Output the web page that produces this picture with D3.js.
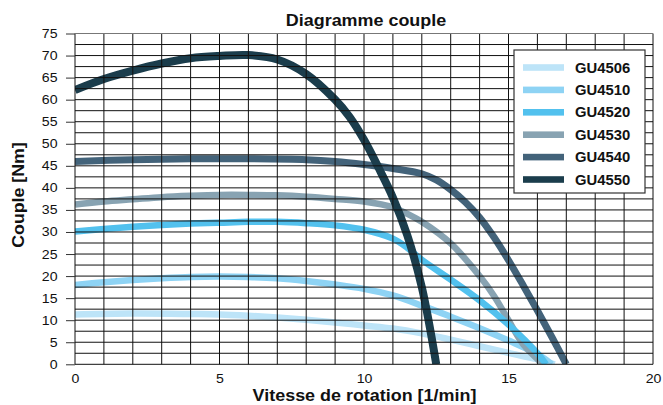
<!DOCTYPE html>
<html>
<head>
<meta charset="utf-8">
<title>Diagramme couple</title>
<script src="https://cdnjs.cloudflare.com/ajax/libs/d3/7.8.5/d3.min.js"></script>
<style>
	body { margin: 0; background: #fff; }
	svg text { font-family: "Liberation Sans", Arial, Helvetica, sans-serif; fill: #111; }
</style>
</head>
<body>
<svg id="chart" width="663" height="405"></svg>
<script>

	// models and their line colours (legend order, lightest first)
	var models = ["GU4506", "GU4510", "GU4520", "GU4530", "GU4540", "GU4550"];
	var colors = ["#bde4f8", "#8ed3f4", "#52c1ee", "#88a3b2", "#43637a", "#1b3d4c"];

	// [speed 1/min, torque Nm]
	var gu4506 = [[0,11.3],[2,11.5],[4,11.4],[5,11.3],[6,11.0],[7,10.6],[8,10.1],[9,9.5],[10,8.8],[11,8.1],[12,7.0],[13,5.6],[14,4.1],[15,2.6],[16,1.1],[16.6,0]];
	var gu4510 = [[0,18],[1,18.6],[2,19.1],[3,19.5],[4,19.8],[5,19.9],[6,19.8],[7,19.5],[8,18.9],[9,18.1],[10,17.1],[11,15.6],[12,13.3],[13,10.8],[14,8.2],[15,5.4],[16,2.3],[16.5,0]];
	var gu4520 = [[0,30.1],[1,30.7],[2,31.2],[3,31.6],[4,31.9],[5,32.1],[6,32.3],[7,32.3],[8,32.0],[9,31.5],[10,30.5],[11,28.5],[11.5,26.4],[12,23.7],[13,19.2],[14,14.5],[15,9.0],[16,2.5],[16.3,0]];
	var gu4530 = [[0,36.2],[1,36.9],[2,37.4],[3,37.9],[4,38.2],[5,38.4],[6,38.4],[7,38.3],[8,38.0],[9,37.5],[10,36.9],[11,35.6],[11.5,34.1],[12,32.3],[13,27.4],[14,20.0],[14.5,15.5],[15,10.0],[15.5,4.6],[16.2,0]];
	var gu4540 = [[0,46.0],[2,46.4],[4,46.6],[6,46.6],[8,46.4],[9,46.0],[10,45.3],[11,44.4],[12,43.2],[12.5,41.8],[13,39.6],[13.5,36.8],[14,33.3],[14.5,28.8],[15,23.6],[15.5,18.0],[16,12.2],[16.5,6.2],[17,0]];
	var gu4550 = [[0,62.2],[1,64.7],[2,66.6],[3,68.2],[4,69.4],[5,69.9],[6,70.1],[7,69.1],[8,65.8],[9,60.0],[9.5,56.1],[10,50.9],[10.5,44.6],[11,37.8],[11.5,29.2],[12,17.5],[12.5,0]];
	var series = [gu4506, gu4510, gu4520, gu4530, gu4540, gu4550];
	var widths = [6.5, 6.5, 6.5, 6.5, 7, 8];

	// axis ticks
	var xTicks = [0, 5, 10, 15, 20];
	var yTicks = [0, 5, 10, 15, 20, 25, 30, 35, 40, 45, 50, 55, 60, 65, 70, 75];

	var svg = d3.select("#chart"),
	    margin = {top: 33.5, right: 10, bottom: 40.7, left: 75},
	    width = +svg.attr("width") - margin.left - margin.right,
	    height = +svg.attr("height") - margin.top - margin.bottom,
	    g = svg.append("g").attr("transform", "translate(" + margin.left + "," + margin.top + ")");

	var x = d3.scaleLinear().domain([0, 20]).range([0, width]);
	var y = d3.scaleLinear().domain([0, 75]).range([height, 0]);

	// the pdf text is a little wider than Arial, stretch it to fit
	function stretch(sel, k) {
		sel.each(function() {
			var w = this.getComputedTextLength();
			d3.select(this).attr("textLength", w * k).attr("lengthAdjust", "spacingAndGlyphs");
		});
	}

	svg.append("clipPath").attr("id", "plot")
	  .append("rect").attr("width", width).attr("height", height);

	var line = d3.line()
	    .x(function(d) { return x(d[0]); })
	    .y(function(d) { return y(d[1]); })
	    .curve(d3.curveCatmullRom.alpha(0.5));

	// curves (4530 under 4520 so its tail hides)
	var order = [0, 1, 3, 2, 4, 5];
	g.append("g").attr("clip-path", "url(#plot)")
	  .selectAll("path")
	  .data(order)
	  .enter().append("path")
	    .attr("fill", "none")
	    .attr("stroke", function(i) { return colors[i]; })
	    .attr("stroke-width", function(i) { return widths[i]; })
	    .attr("d", function(i) { return line(series[i]); });

	// grid on top of the curves
	var grid = g.append("g").attr("stroke", "#111").attr("stroke-width", 1);
	grid.selectAll(".vx")
	  .data(x.ticks(20))
	  .enter().append("line")
	    .attr("x1", function(d) { return x(d); })
	    .attr("x2", function(d) { return x(d); })
	    .attr("y1", 0).attr("y2", height);
	grid.selectAll(".hy")
	  .data(d3.range(0, 75.1, 2.5))
	  .enter().append("line")
	    .attr("y1", function(d) { return y(d); })
	    .attr("y2", function(d) { return y(d); })
	    .attr("x1", 0).attr("x2", width)
	    .attr("stroke", function(d) { return d === 75 ? "#777" : null; });

	// axes
	var yAxis = g.append("g")
	    .call(d3.axisLeft(y).tickValues(yTicks).tickSize(9).tickPadding(8.5));
	yAxis.select(".domain").remove();
	yAxis.selectAll(".tick line").attr("stroke", "#333");
	yAxis.selectAll("text").attr("font-size", 12.5).attr("fill", "#111").call(stretch, 1.13);

	var xAxis = g.append("g")
	    .attr("transform", "translate(0," + height + ")")
	    .call(d3.axisBottom(x).tickValues(xTicks).tickSize(0).tickPadding(10));
	xAxis.select(".domain").remove();
	xAxis.selectAll("text").attr("font-size", 12.5).attr("fill", "#111").call(stretch, 1.13);

	// legend
	var legend = svg.append("g").attr("transform", "translate(514,50)");
	legend.append("rect")
	    .attr("width", 131).attr("height", 143)
	    .attr("fill", "#fff").attr("stroke", "#333").attr("stroke-width", 1.2);
	var item = legend.selectAll(".item")
	  .data(models)
	  .enter().append("g")
	    .attr("transform", function(d, i) { return "translate(0," + (17.5 + i * 22.4) + ")"; });
	item.append("rect")
	    .attr("x", 9).attr("y", -3.3).attr("width", 41).attr("height", 6.6)
	    .attr("fill", function(d, i) { return colors[i]; });
	item.append("text")
	    .attr("x", 61).attr("y", 5)
	    .attr("font-size", 14).attr("font-weight", "bold")
	    .text(function(d) { return d; })
	    .call(stretch, 1.06);

	// titles
	svg.append("text")
	    .attr("x", 366).attr("y", 25.5)
	    .attr("text-anchor", "middle")
	    .attr("font-size", 16).attr("font-weight", "bold")
	    .text("Diagramme couple")
	    .call(stretch, 1.12);

	svg.append("text")
	    .attr("x", 364.5).attr("y", 400.5)
	    .attr("text-anchor", "middle")
	    .attr("font-size", 16).attr("font-weight", "bold")
	    .text("Vitesse de rotation [1/min]")
	    .call(stretch, 1.12);

	svg.append("text")
	    .attr("transform", "translate(24.3,195) rotate(-90)")
	    .attr("text-anchor", "middle")
	    .attr("font-size", 16).attr("font-weight", "bold")
	    .text("Couple [Nm]")
	    .call(stretch, 1.11);

</script>
</body>
</html>
